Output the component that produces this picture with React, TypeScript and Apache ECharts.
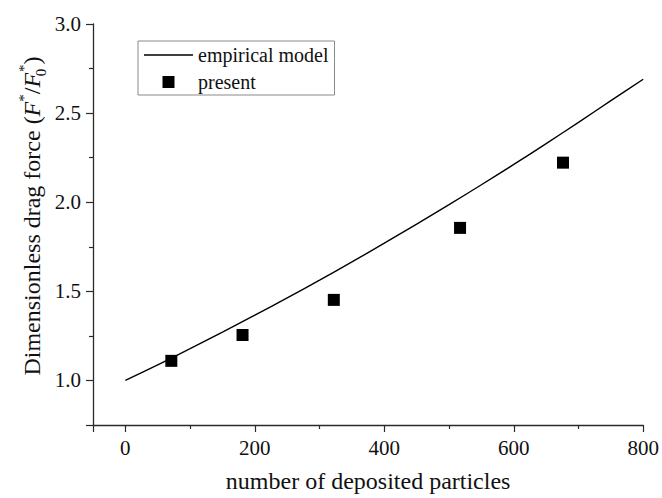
import React, { useEffect, useRef } from "react";
import * as echarts from "echarts";

// Empirical drag-force model, read at regular particle counts
const modelCounts = [0, 50, 100, 150, 200, 250, 300, 350, 400, 450, 500, 550, 600, 650, 700, 750, 800];
const modelForce = [1.0, 1.088, 1.178, 1.271, 1.366, 1.463, 1.563, 1.665, 1.77, 1.877, 1.986, 2.098, 2.212, 2.329, 2.448, 2.57, 2.69];

// Simulation results (present work)
const presentCounts = [71, 181, 322, 517, 676];
const presentForce = [1.11, 1.255, 1.452, 1.856, 2.222];

const seriesNames = ["empirical model", "present"];
const xTitle = "number of deposited particles";

const SERIF = '"Liberation Serif", "Times New Roman", serif';
const INK = "#111";
const AXIS = "#2a2a2a";

export default function App() {
  const ref = useRef<HTMLDivElement>(null);

  useEffect(() => {
    if (!ref.current) return;
    const chart = echarts.init(ref.current, null, { renderer: "svg" });

    const modelData = modelCounts.map((c, i) => [c, modelForce[i]]);
    const presentData = presentCounts.map((c, i) => [c, presentForce[i]]);

    chart.setOption({
      animation: false,
      backgroundColor: "#fff",
      grid: { left: 93, right: 16, top: 24, bottom: 63, containLabel: false },
      xAxis: {
        type: "value",
        min: -50,
        max: 800,
        minInterval: 200,
        maxInterval: 200,
        name: xTitle,
        nameLocation: "middle",
        nameGap: 44,
        nameTextStyle: { fontFamily: SERIF, fontSize: 24, color: INK },
        axisLine: { show: true, onZero: false, lineStyle: { color: AXIS, width: 1.3 } },
        axisTick: { show: true, inside: false, length: 7, lineStyle: { color: AXIS, width: 1.2 } },
        minorTick: { show: true, splitNumber: 2, length: 4, lineStyle: { color: AXIS, width: 1.2 } },
        splitLine: { show: false },
        axisLabel: {
          showMinLabel: false,
          margin: 12,
          fontFamily: SERIF,
          fontSize: 21,
          color: INK,
          formatter: (v: number) => String(Math.round(v)),
        },
      },
      yAxis: {
        type: "value",
        min: 0.75,
        max: 3.0,
        minInterval: 0.5,
        maxInterval: 0.5,
        axisLine: { show: true, onZero: false, lineStyle: { color: AXIS, width: 1.3 } },
        axisTick: { show: true, inside: false, length: 7, lineStyle: { color: AXIS, width: 1.2 } },
        minorTick: { show: true, splitNumber: 2, length: 4, lineStyle: { color: AXIS, width: 1.2 } },
        splitLine: { show: false },
        axisLabel: {
          showMinLabel: false,
          margin: 12,
          fontFamily: SERIF,
          fontSize: 21,
          color: INK,
          formatter: (v: number) => v.toFixed(1),
        },
      },
      legend: {
        orient: "vertical",
        left: 138,
        top: 41,
        itemWidth: 49,
        itemHeight: 12,
        itemGap: 7,
        padding: [4, 6, 3, 6],
        borderColor: "#8a8a8a",
        borderWidth: 1,
        symbolKeepAspect: true,
        textStyle: { fontFamily: SERIF, fontSize: 20, color: INK },
        data: [
          { name: seriesNames[0], icon: "path://M0,0H49V1.3H0Z", itemStyle: { color: "#000", opacity: 1 } },
          { name: seriesNames[1], icon: "path://M0,0H10V10H0Z", itemStyle: { color: "#000", opacity: 1 } },
        ],
      },
      graphic: [
        {
          type: "text",
          x: 32,
          y: 216,
          rotation: Math.PI / 2,
          style: {
            text:
              "{n|Dimensionless drag force (}{i|F}{sp|*}{n|/}{i|F}{sb|0}{sp|*}{n|)}",
            align: "center",
            verticalAlign: "middle",
            textAlign: "center",
            textVerticalAlign: "middle",
            fill: INK,
            rich: {
              n: { fontFamily: SERIF, fontSize: 24, lineHeight: 32, color: INK },
              i: { fontFamily: SERIF, fontSize: 24, fontStyle: "italic", lineHeight: 32, color: INK },
              sp: { fontFamily: SERIF, fontSize: 15, lineHeight: 16, verticalAlign: "top", color: INK },
              sb: { fontFamily: SERIF, fontSize: 15, lineHeight: 16, verticalAlign: "bottom", width: 1, color: INK },
            },
          },
        },
      ],
      series: [
        {
          name: seriesNames[0],
          type: "line",
          data: modelData,
          smooth: 0.3,
          symbol: "none",
          lineStyle: { color: "#000", width: 1.4 },
          itemStyle: { color: "#000" },
          z: 2,
        },
        {
          name: seriesNames[1],
          type: "scatter",
          data: presentData,
          symbol: "rect",
          symbolSize: 12,
          itemStyle: { color: "#000", opacity: 1 },
          z: 3,
        },
      ],
    });

    return () => chart.dispose();
  }, []);

  return (
    <div
      ref={ref}
      style={{ position: "fixed", left: 0, top: 0, width: 662, height: 498 }}
    />
  );
}
